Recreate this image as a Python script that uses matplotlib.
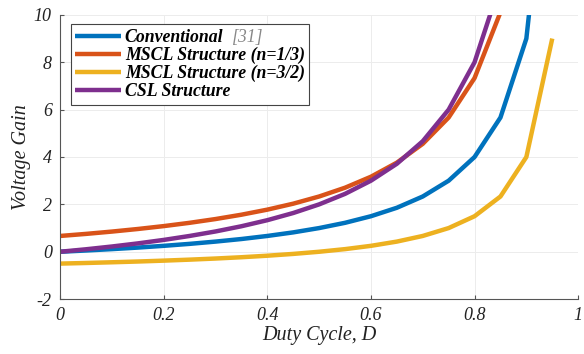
import matplotlib
matplotlib.use("Agg")
import matplotlib.pyplot as plt

duty = [0.00, 0.05, 0.10, 0.15, 0.20, 0.25, 0.30, 0.35, 0.40, 0.45,
        0.50, 0.55, 0.60, 0.65, 0.70, 0.75, 0.80, 0.85, 0.90, 0.95]
conventional = [0.0, 0.053, 0.111, 0.176, 0.25, 0.333, 0.429, 0.538, 0.667, 0.818,
                1.0, 1.222, 1.5, 1.857, 2.333, 3.0, 4.0, 5.667, 9.0, 19.0]
mscl_13 = [0.667, 0.754, 0.852, 0.961, 1.083, 1.222, 1.381, 1.564, 1.778, 2.030,
           2.333, 2.704, 3.167, 3.762, 4.556, 5.667, 7.333, 10.111, 15.667]
mscl_32 = [-0.5, -0.474, -0.444, -0.412, -0.375, -0.333, -0.286, -0.231, -0.167, -0.091,
           0.0, 0.111, 0.25, 0.429, 0.667, 1.0, 1.5, 2.333, 4.0, 9.0]
csl = [0.0, 0.105, 0.222, 0.353, 0.5, 0.667, 0.857, 1.077, 1.333, 1.636,
       2.0, 2.444, 3.0, 3.714, 4.667, 6.0, 8.0, 11.333]

labels = ["Conventional", "MSCL Structure (n=1/3)", "MSCL Structure (n=3/2)", "CSL Structure"]
colors = ["#0072BD", "#D95319", "#EDB120", "#7E2F8E"]
xticks = [0, 0.2, 0.4, 0.6, 0.8, 1]
xticklabels = ["0", "0.2", "0.4", "0.6", "0.8", "1"]
yticks = [-2, 0, 2, 4, 6, 8, 10]

plt.rcParams['font.family'] = ['Liberation Serif', 'DejaVu Serif']
plt.rcParams['axes.unicode_minus'] = False

fig = plt.figure(figsize=(5.84, 3.54), dpi=100)
ax = fig.add_axes([0.103, 0.155, 0.887, 0.803])

series = [conventional, mscl_13, mscl_32, csl]
for vals, lab, c in zip(series, labels, colors):
    ax.plot(duty[:len(vals)], vals, color=c, lw=3.2, label=lab, solid_capstyle='butt', clip_on=True)

ax.set_xlim(0, 1)
ax.set_ylim(-2, 10)
ax.set_xticks(xticks)
ax.set_xticklabels(xticklabels)
ax.set_yticks(yticks)
ax.grid(True, color='#ececec', lw=0.7)
ax.set_axisbelow(True)
for s in ['top', 'right']:
    ax.spines[s].set_visible(False)
for s in ['left', 'bottom']:
    ax.spines[s].set_color('#555555')
    ax.spines[s].set_linewidth(0.8)
ax.tick_params(direction='in', length=3, color='#555555', labelsize=13, pad=6)
for t in ax.get_xticklabels() + ax.get_yticklabels():
    t.set_fontstyle('italic')
    t.set_color('#222222')

ax.set_xlabel("Duty Cycle, D", fontsize=14.5, fontstyle='italic', labelpad=1, color='#222222')
ax.set_ylabel("Voltage Gain", fontsize=14.5, fontstyle='italic', labelpad=2, color='#222222')

leg = ax.legend(loc='upper left', bbox_to_anchor=(0.01, 0.985), prop={'style': 'italic', 'weight': 'bold', 'size': 12.8},
                frameon=True, fancybox=False, edgecolor='#444444', framealpha=1,
                handlelength=2.6, handletextpad=0.2, labelspacing=0.05, borderpad=0.25, borderaxespad=0.3)
leg.get_frame().set_linewidth(0.8)
ax.annotate("[31]", xy=(1, 0), xycoords=leg.get_texts()[0], xytext=(6, 0), textcoords='offset points',
            va='bottom', ha='left', fontsize=12.8, fontstyle='italic', color='#888888', zorder=10)

fig.savefig("out.png", dpi=100)
